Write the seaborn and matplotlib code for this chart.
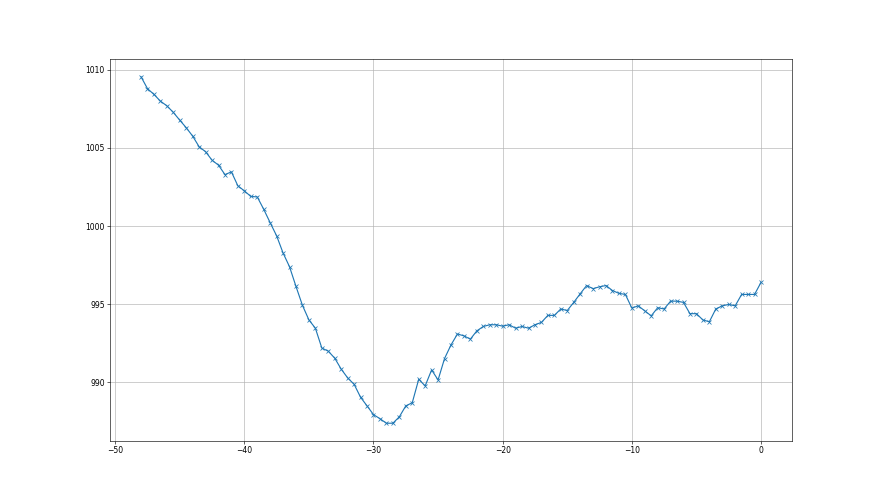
import numpy as np
import matplotlib
matplotlib.use("Agg")
import matplotlib.pyplot as plt
import seaborn as sns

# tiempo relativo (pasos de 0.5) y presion
tiempo = np.arange(-48, 0.01, 0.5)
presion = [
    1009.56, 1008.8, 1008.43, 1008.0, 1007.7, 1007.28, 1006.78, 1006.3,
    1005.76, 1005.08, 1004.76, 1004.22, 1003.9, 1003.3, 1003.47, 1002.58,
    1002.26, 1001.9, 1001.87, 1001.08, 1000.22, 999.38,
    998.28, 997.4, 996.14, 994.93,
    994.0, 993.47, 992.2, 992.0, 991.55, 990.85, 990.29, 989.88,
    989.05, 988.5, 987.94, 987.68, 987.39, 987.39, 987.8, 988.5,
    988.7, 990.2, 989.78, 990.8, 990.16, 991.53, 992.4, 993.1,
    992.98, 992.77,
    993.3, 993.58, 993.69, 993.69, 993.6, 993.69, 993.47, 993.58,
    993.47, 993.69, 993.84, 994.29, 994.29, 994.7, 994.6, 995.12,
    995.67, 996.2, 996.0, 996.12, 996.2,
    995.88, 995.7, 995.63, 994.76, 994.9, 994.58, 994.26, 994.78,
    994.7, 995.2, 995.2, 995.12, 994.4, 994.4, 994.0, 993.88,
    994.7, 994.9, 994.99, 994.9, 995.63, 995.63, 995.63, 996.4,
]

fig, ax = plt.subplots(figsize=(16, 9), dpi=55)
sns.lineplot(x=tiempo, y=presion, marker="x", color="C0",
             markeredgecolor="C0", markeredgewidth=1, ax=ax)
ax.grid(True)
ax.set_xticks([-50, -40, -30, -20, -10, 0])
ax.set_yticks([990, 995, 1000, 1005, 1010])

plt.savefig("out.png", dpi=55)
